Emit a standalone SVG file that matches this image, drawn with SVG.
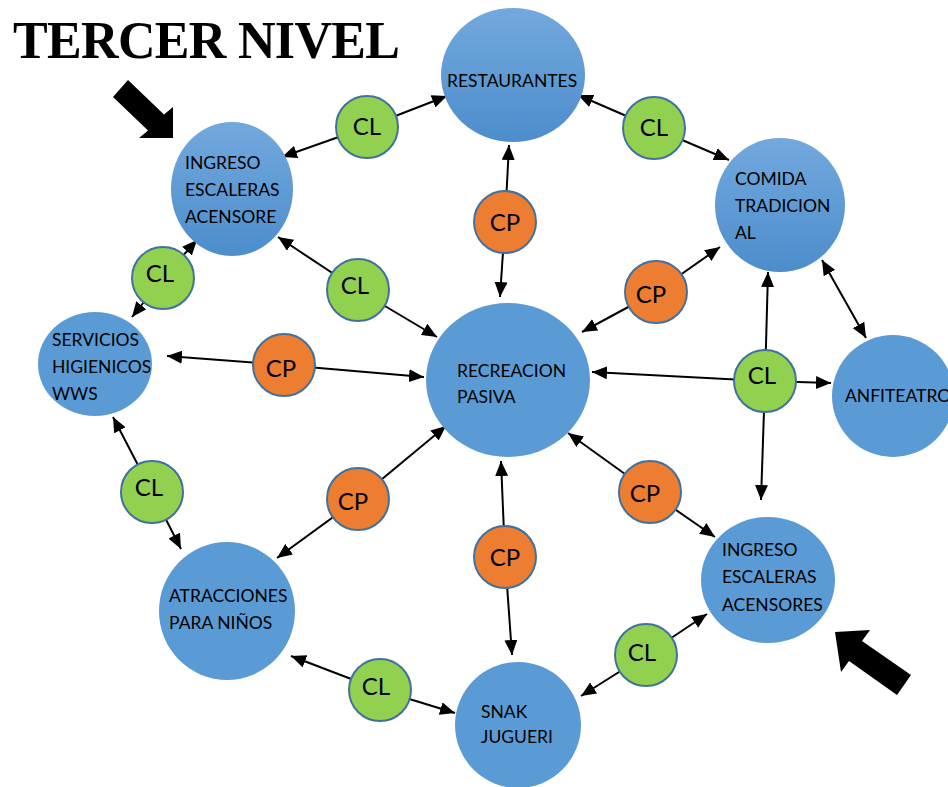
<svg xmlns="http://www.w3.org/2000/svg" width="948" height="787" viewBox="0 0 948 787">
<style>
.big{fill:#5B9BD5}
.grad{fill:url(#g)}
.t{font-family:Lato,"Open Sans",sans-serif;font-size:17.5px;fill:#000}
.cl{fill:#92D050;stroke:#41719C;stroke-width:2}
.cp{fill:#ED7D31;stroke:#41719C;stroke-width:2}
.s{font-family:Lato,"Open Sans",sans-serif;font-size:24px;fill:#000;text-anchor:middle}
.c line{stroke:#000;stroke-width:2;marker-end:url(#ah)}
</style>
<defs>
<linearGradient id="g" x1="0" y1="0" x2="0" y2="1">
<stop offset="0" stop-color="#72A9DD"/>
<stop offset="1" stop-color="#4D8DCC"/>
</linearGradient>
<marker id="ah" markerUnits="userSpaceOnUse" markerWidth="15" markerHeight="13" refX="15" refY="6.5" orient="auto-start-reverse" viewBox="0 0 15 13">
<path d="M0,0 L15,6.5 L0,13 z" fill="#000"/>
</marker>
</defs>
<rect width="948" height="787" fill="#fff"/>
<text x="13" y="58" font-family="'Liberation Serif',serif" font-weight="bold" font-size="52" textLength="387">TERCER NIVEL</text>
<polygon points="128,80 164,114.5 173,107 173,138 139,138 148,130.5 113,97" fill="#000"/>
<polygon points="835,632 870,630 862,641 911,675 897,695 849,661 841,672" fill="#000"/>
<g class="c" id="connectors">
<line x1="367" y1="127" x2="447" y2="96"/>
<line x1="367" y1="127" x2="282" y2="157"/>
<line x1="654" y1="128" x2="578" y2="95"/>
<line x1="654" y1="128" x2="729" y2="160"/>
<line x1="505" y1="222" x2="509" y2="145"/>
<line x1="505" y1="222" x2="500" y2="297"/>
<line x1="358" y1="290" x2="278" y2="237"/>
<line x1="358" y1="290" x2="437" y2="337"/>
<line x1="163" y1="278" x2="197" y2="240"/>
<line x1="163" y1="278" x2="132" y2="317"/>
<line x1="284" y1="365" x2="167" y2="356"/>
<line x1="284" y1="365" x2="424" y2="377"/>
<line x1="656" y1="292" x2="720" y2="247"/>
<line x1="656" y1="292" x2="582" y2="332"/>
<line x1="765" y1="381" x2="592" y2="372"/>
<line x1="765" y1="381" x2="768" y2="272"/>
<line x1="765" y1="381" x2="831" y2="383"/>
<line x1="765" y1="381" x2="761" y2="500"/>
<line x1="822" y1="260" x2="866" y2="338" marker-start="url(#ah)"/>
<line x1="152" y1="492" x2="113" y2="417"/>
<line x1="152" y1="492" x2="181" y2="549"/>
<line x1="358" y1="499" x2="446" y2="426"/>
<line x1="358" y1="499" x2="277" y2="558"/>
<line x1="505" y1="557" x2="501" y2="461"/>
<line x1="505" y1="557" x2="512" y2="655"/>
<line x1="650" y1="492" x2="568" y2="433"/>
<line x1="650" y1="492" x2="715" y2="537"/>
<line x1="380" y1="690" x2="291" y2="656"/>
<line x1="380" y1="690" x2="455" y2="713"/>
<line x1="646" y1="655" x2="707" y2="614"/>
<line x1="646" y1="655" x2="581" y2="696"/>
</g>
<g id="restaurantes"><ellipse class="grad" cx="513" cy="75" rx="72" ry="67"/><text class="t" x="447" y="87">RESTAURANTES</text></g>
<g id="ingreso-top"><ellipse class="grad" cx="232" cy="189" rx="61" ry="67"/><text class="t" x="185" y="169">INGRESO</text><text class="t" x="185" y="196">ESCALERAS</text><text class="t" x="185" y="223">ACENSORE</text></g>
<g id="comida"><ellipse class="grad" cx="780" cy="205" rx="65" ry="67"/><text class="t" x="735" y="185">COMIDA</text><text class="t" x="735" y="212">TRADICION</text><text class="t" x="735" y="239">AL</text></g>
<g id="anfiteatro"><ellipse class="big" cx="893" cy="396" rx="61" ry="61"/><text class="t" x="845" y="402">ANFITEATRO</text></g>
<g id="servicios"><ellipse class="big" cx="95" cy="364" rx="57" ry="52"/><text class="t" x="52" y="346">SERVICIOS</text><text class="t" x="52" y="373">HIGIENICOS</text><text class="t" x="52" y="400">WWS</text></g>
<g id="recreacion"><ellipse class="big" cx="508" cy="380" rx="82" ry="77"/><text class="t" x="457" y="377">RECREACION</text><text class="t" x="457" y="403">PASIVA</text></g>
<g id="ingreso-bottom"><ellipse class="big" cx="768" cy="580" rx="67" ry="63"/><text class="t" x="722" y="556">INGRESO</text><text class="t" x="722" y="583">ESCALERAS</text><text class="t" x="722" y="611">ACENSORES</text></g>
<g id="atracciones"><ellipse class="big" cx="227" cy="611" rx="68" ry="69"/><text class="t" x="169" y="602">ATRACCIONES</text><text class="t" x="169" y="629">PARA NIÑOS</text></g>
<g id="snak"><ellipse class="big" cx="518" cy="725" rx="63" ry="63"/><text class="t" x="481" y="718">SNAK</text><text class="t" x="481" y="743">JUGUERI</text></g>
<g id="cl1"><circle class="cl" cx="367" cy="127" r="31"/><text class="s" x="367" y="135">CL</text></g>
<g id="cl2"><circle class="cl" cx="654" cy="128" r="31"/><text class="s" x="654" y="136">CL</text></g>
<g id="cp1"><circle class="cp" cx="505" cy="222" r="31"/><text class="s" x="505" y="231">CP</text></g>
<g id="cl3"><circle class="cl" cx="358" cy="290" r="31"/><text class="s" x="355" y="294">CL</text></g>
<g id="cl4"><circle class="cl" cx="163" cy="278" r="31"/><text class="s" x="160" y="282">CL</text></g>
<g id="cp2"><circle class="cp" cx="284" cy="365" r="31"/><text class="s" x="281" y="377">CP</text></g>
<g id="cp3"><circle class="cp" cx="656" cy="292" r="31"/><text class="s" x="651" y="303">CP</text></g>
<g id="cl5"><circle class="cl" cx="765" cy="381" r="31"/><text class="s" x="762" y="384">CL</text></g>
<g id="cl6"><circle class="cl" cx="152" cy="492" r="31"/><text class="s" x="149" y="496">CL</text></g>
<g id="cp4"><circle class="cp" cx="358" cy="499" r="31"/><text class="s" x="353" y="510">CP</text></g>
<g id="cp5"><circle class="cp" cx="505" cy="557" r="31"/><text class="s" x="505" y="566">CP</text></g>
<g id="cp6"><circle class="cp" cx="650" cy="492" r="31"/><text class="s" x="645" y="502">CP</text></g>
<g id="cl7"><circle class="cl" cx="380" cy="690" r="31"/><text class="s" x="376" y="695">CL</text></g>
<g id="cl8"><circle class="cl" cx="646" cy="655" r="31"/><text class="s" x="642" y="661">CL</text></g>
</svg>
